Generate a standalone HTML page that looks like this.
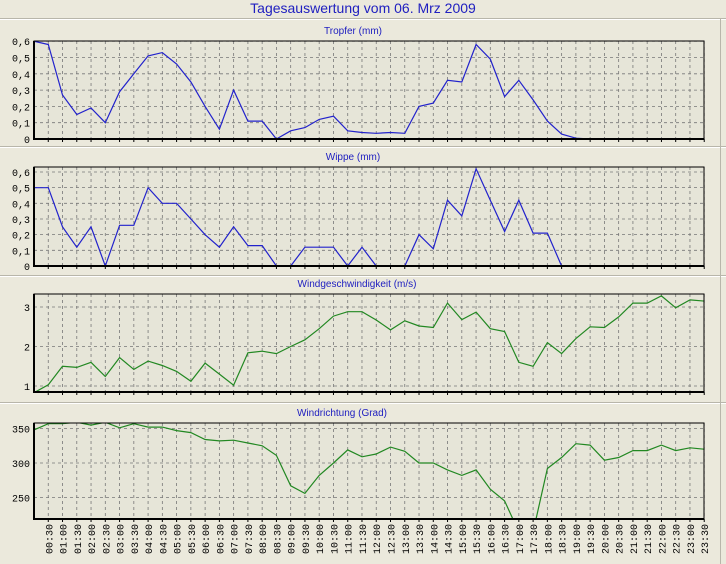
<!DOCTYPE html>
<html><head><meta charset="utf-8"><style>
html,body{margin:0;padding:0;background:#ebe9dc;}
svg{display:block;font-family:"Liberation Sans",sans-serif;}
</style></head><body>
<svg id="s" width="726" height="564" xmlns="http://www.w3.org/2000/svg"></svg>
<script>
const s=document.getElementById('s');let h='';
const X0=34,DX=14.26,XR=704;
const xi=i=>X0+i*DX;
h+='<rect width="726" height="564" fill="#ebe9dc"/>';
h+='<text x="363" y="13" fill="#2020c0" font-size="14" text-anchor="middle">Tagesauswertung vom 06. Mrz 2009</text>';
[18,146,275,402].forEach(y=>{h+=`<line x1="0" x2="726" y1="${y+.5}" y2="${y+.5}" stroke="#b8b6aa"/><line x1="0" x2="726" y1="${y+1.5}" y2="${y+1.5}" stroke="#fff"/>`;});
h+='<line x1="720.5" x2="720.5" y1="18" y2="564" stroke="#b8b6aa"/>';
function panel(o){
 const {top,bot,title,ty,vy,ticks,grid,data,col,lbl}=o;
 h+=`<rect x="${X0}" y="${top}" width="${XR-X0}" height="${bot-top}" fill="#e6e5d8"/>`;
 h+=`<clipPath id="c${top}"><rect x="${X0}" y="${top}" width="${XR-X0}" height="${bot-top}"/></clipPath>`;
 for(let i=1;i<48;i++)h+=`<line x1="${xi(i)}" x2="${xi(i)}" y1="${top}" y2="${bot}" stroke="#777" stroke-dasharray="3,3" stroke-width="0.8"/>`;
 grid.forEach(v=>{const y=vy(v);h+=`<line x1="${X0}" x2="${XR}" y1="${y}" y2="${y}" stroke="#777" stroke-dasharray="3,3" stroke-width="0.8"/>`;});
 ticks.forEach(([v,t])=>{h+=`<text x="30" y="${vy(v)+4}" font-size="10" text-anchor="end" fill="#000" font-family="Liberation Mono,monospace">${t}</text>`;});
 let p=data.map((v,i)=>v==null?null:xi(i).toFixed(1)+','+vy(v).toFixed(1)).filter(a=>a).join(' ');
 h+=`<polyline clip-path="url(#c${top})" points="${p}" fill="none" stroke="${col}" stroke-width="1.2"/>`;
 h+=`<rect x="${X0}" y="${top}" width="${XR-X0}" height="${bot-top}" fill="none" stroke="#000" stroke-width="1"/>`;
 h+=`<line x1="${X0}" x2="${X0}" y1="${top}" y2="${bot+1}" stroke="#000" stroke-width="2"/><line x1="${X0}" x2="${XR}" y1="${bot}" y2="${bot}" stroke="#000" stroke-width="2"/>`;
 for(let i=1;i<48;i++)h+=`<line x1="${xi(i)}" x2="${xi(i)}" y1="${bot}" y2="${bot+3}" stroke="#000"/>`;
 h+=`<text x="${ty}" y="${top-7}" font-size="10" fill="#2020c0" text-anchor="middle">${title}</text>`;
}
const t1=[.6,.58,.27,.15,.19,.1,.29,.4,.51,.53,.46,.35,.2,.06,.3,.11,.11,0,.05,.07,.12,.14,.05,.04,.035,.04,.035,.2,.22,.36,.35,.58,.49,.26,.36,.24,.11,.03,.005,0];
panel({top:41,bot:139,title:'Tropfer (mm)',ty:353,vy:v=>139-v*163,grid:[.1,.2,.3,.4,.5,.6],
 ticks:[[0,'0'],[.1,'0,1'],[.2,'0,2'],[.3,'0,3'],[.4,'0,4'],[.5,'0,5'],[.6,'0,6']],data:t1,col:'#2222cc'});
const t2=[.5,.5,.25,.12,.25,0,.26,.26,.5,.4,.4,.3,.2,.12,.25,.13,.13,0,0,.12,.12,.12,0,.12,0,0,0,.2,.11,.42,.32,.62,.42,.22,.42,.21,.21,0];
panel({top:167,bot:266,title:'Wippe (mm)',ty:353,vy:v=>266-v*156.7,grid:[.1,.2,.3,.4,.5,.6],
 ticks:[[0,'0'],[.1,'0,1'],[.2,'0,2'],[.3,'0,3'],[.4,'0,4'],[.5,'0,5'],[.6,'0,6']],data:t2,col:'#2222cc'});
const t3=[.83,1.03,1.5,1.47,1.6,1.24,1.72,1.42,1.63,1.52,1.37,1.12,1.58,1.3,1.02,1.84,1.88,1.82,2.0,2.17,2.45,2.77,2.88,2.88,2.67,2.42,2.65,2.52,2.48,3.1,2.68,2.87,2.45,2.38,1.6,1.5,2.1,1.82,2.2,2.5,2.48,2.75,3.1,3.1,3.28,2.98,3.18,3.15];
panel({top:294,bot:392,title:'Windgeschwindigkeit (m/s)',ty:357,vy:v=>386-(v-1)*39.5,grid:[1,2,3],
 ticks:[[1,'1'],[2,'2'],[3,'3']],data:t3,col:'#228822'});
const t4=[348,357,357,359,355,359,351,357,352,352,347,344,334,332,333,329,325,311,267,256,282,300,319,309,313,323,317,300,300,290,282,290,262,245,200,200,292,308,328,326,304,308,318,318,326,318,322,320];
panel({top:423,bot:519,title:'Windrichtung (Grad)',ty:342,vy:v=>463-(v-300)*0.69,grid:[250,300,350],
 ticks:[[250,'250'],[300,'300'],[350,'350']],data:t4,col:'#228822'});
for(let i=1;i<48;i++){const hh=String(Math.floor(i/2)).padStart(2,'0')+':'+(i%2?'30':'00');
 const x=xi(i)+4;h+=`<text transform="translate(${x},524) rotate(-90)" font-size="10" text-anchor="end" font-family="Liberation Mono,monospace">${hh}</text>`;}
s.innerHTML=h;
</script>
</body></html>
